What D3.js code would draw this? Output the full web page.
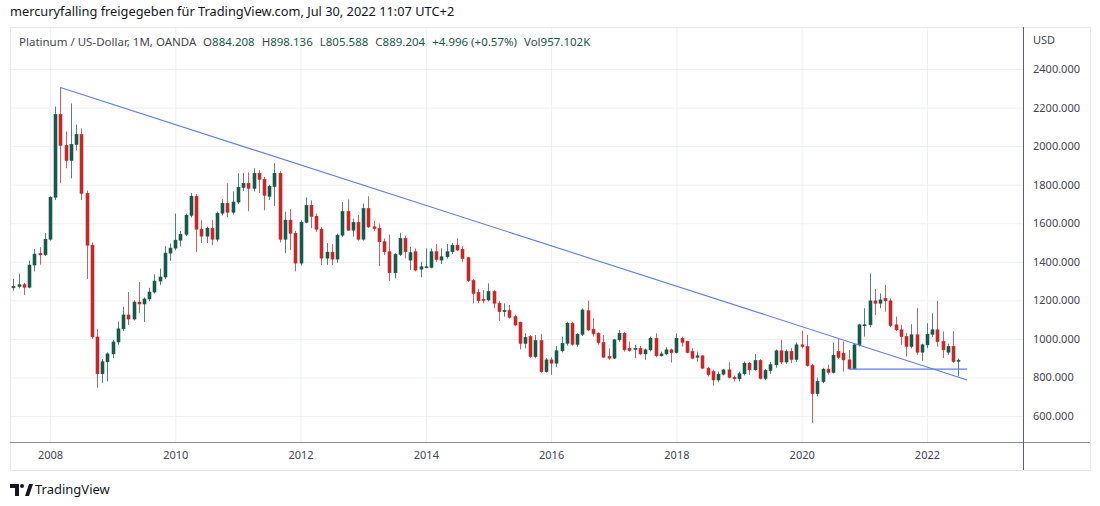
<!DOCTYPE html>
<html>
<head>
<meta charset="utf-8">
<script src="https://cdn.jsdelivr.net/npm/d3@7"></script>
<style>
  body { margin: 0; background: #fff; }
  svg text { font-family: "Noto Sans", "DejaVu Sans", sans-serif; }
</style>
</head>
<body>
<div id="chart"></div>
<script>
// monthly candles, first one is June 2007
const startMonth = new Date(2007, 5, 1);

const opens = [1265,1272,1281,1268,1383,1443,1436,1517,1735,2164,2004,1926,2009,2060,1755,1486,1010,819,881,922,
  984,1052,1124,1103,1191,1181,1207,1243,1300,1321,1445,1471,1512,1543,1641,1740,1569,1533,1574,1517,
  1652,1703,1657,1710,1786,1807,1781,1859,1828,1740,1791,1859,1517,1616,1548,1393,1605,1693,1636,1569,
  1419,1450,1414,1538,1660,1564,1604,1517,1676,1581,1573,1504,1452,1343,1438,1521,1409,1452,1362,1371,
  1371,1452,1409,1426,1452,1486,1464,1421,1302,1240,1205,1202,1245,1185,1141,1147,1115,1086,977,1012,
  908,991,830,891,874,938,977,1081,972,1024,1146,1050,1029,981,908,900,995,1029,951,946,
  951,922,943,1003,912,922,943,929,1003,986,934,905,912,848,830,787,817,839,800,793,
  819,874,840,888,795,836,866,938,880,935,893,969,960,862,716,779,843,826,935,926,
  891,845,969,1069,1073,1197,1185,1210,1197,1073,1047,1012,961,1021,931,969,1024,1047,986,931,
  961,884.208];
const highs = [1312,1338,1290,1405,1466,1476,1548,1740,2205,2304,2076,2221,2112,2092,1770,1500,1052,895,930,995,
  1090,1166,1243,1200,1295,1215,1265,1335,1365,1481,1495,1650,1560,1650,1757,1752,1616,1582,1616,1660,
  1724,1807,1765,1859,1860,1864,1885,1875,1840,1800,1912,1870,1660,1673,1560,1615,1733,1719,1650,1580,
  1497,1492,1545,1710,1723,1624,1642,1702,1740,1612,1598,1521,1541,1445,1550,1535,1478,1469,1400,1469,
  1469,1492,1470,1492,1498,1521,1481,1425,1310,1260,1253,1288,1255,1195,1184,1176,1125,1090,1029,1020,
  1020,1026,900,905,963,1012,1089,1089,1030,1158,1198,1107,1035,1020,951,1000,1046,1035,986,969,
  963,950,1012,1029,934,957,950,1029,1012,990,951,934,915,855,840,830,845,879,810,830,
  883,880,921,895,843,880,945,995,945,952,981,1042,1021,870,800,850,866,981,1003,986,
  943,975,1078,1159,1340,1259,1236,1280,1210,1116,1073,1030,1076,1159,975,1081,1133,1197,1038,975,
  1040,898.136];
const lows = [1250,1262,1228,1262,1350,1385,1430,1510,1720,1807,1885,1833,1978,1720,1310,1000,746,772,780,900,
  970,1040,1072,1095,1135,1088,1195,1235,1280,1310,1405,1460,1480,1535,1630,1450,1497,1497,1486,1505,
  1640,1631,1645,1700,1767,1662,1765,1757,1667,1720,1690,1500,1445,1460,1350,1380,1600,1574,1555,1383,
  1383,1383,1395,1530,1560,1530,1510,1510,1575,1560,1378,1435,1300,1314,1430,1417,1357,1350,1319,1366,
  1366,1400,1388,1417,1440,1455,1400,1295,1184,1184,1184,1195,1159,1093,1115,1105,1065,946,951,900,
  900,825,825,813,853,930,965,965,960,1015,1040,1012,970,900,891,895,985,934,934,900,
  917,891,935,905,908,915,877,925,960,925,895,882,845,805,758,775,810,795,779,779,
  810,814,835,790,785,819,850,870,870,874,880,950,855,564,702,770,815,820,895,831,
  843,840,960,1012,1060,1124,1159,1141,1060,1041,969,908,951,917,886,951,1010,960,900,918,
  875,805.588];
const closes = [1272,1281,1268,1383,1440,1436,1517,1735,2164,2004,1926,2009,2060,1755,1486,1010,819,881,922,984,
  1052,1124,1103,1191,1181,1207,1243,1300,1321,1445,1471,1512,1543,1641,1740,1569,1533,1574,1517,1652,
  1703,1657,1710,1786,1807,1781,1859,1828,1745,1791,1859,1517,1616,1548,1393,1605,1693,1636,1569,1419,
  1450,1414,1538,1660,1564,1604,1517,1676,1581,1573,1504,1452,1343,1438,1521,1452,1447,1357,1374,1374,
  1452,1412,1426,1452,1486,1461,1417,1302,1236,1198,1202,1245,1185,1141,1147,1112,1072,977,1007,908,
  991,830,891,874,938,977,1081,972,1024,1150,1046,1026,981,905,900,995,1029,943,939,951,
  922,943,1003,912,922,943,929,1003,982,929,900,912,848,815,787,817,839,800,793,819,
  874,840,888,795,836,866,938,880,935,893,969,960,862,716,779,843,826,915,904,891,
  845,969,1073,1073,1197,1185,1202,1197,1069,1047,1012,961,1021,931,969,1024,1047,986,943,961,
  883,889.204];

const yearTicks = [2008, 2010, 2012, 2014, 2016, 2018, 2020, 2022];
const priceTicks = [600, 800, 1000, 1200, 1400, 1600, 1800, 2000, 2200, 2400];

// drawn lines, i = month index counted from startMonth
const trendLine = [{ i: 9, price: 2304 }, { i: 182.7, price: 787 }];
const supportLine = [{ i: 160, price: 843 }, { i: 182.7, price: 843 }];

const titleText = "mercuryfalling freigegeben für TradingView.com, Jul 30, 2022 11:07 UTC+2";
const symbolText = "Platinum / US-Dollar, 1M, OANDA";
const volumeText = "957.102K";

const months = d3.timeMonth.range(startMonth, d3.timeMonth.offset(startMonth, closes.length));
const candles = months.map(function (m, i) {
  return { i: i, month: m, open: opens[i], high: highs[i], low: lows[i], close: closes[i] };
});

const width = 1100, height = 506;
const plot = { left: 10, right: 1023, top: 27, bottom: 442 };
const frame = { left: 10, right: 1090, top: 27, bottom: 470 };

const up = "#17594a", down = "#c62828";
const gridColor = "#eef0f4";
const textColor = "#434651";

const svg = d3.select("#chart").append("svg")
  .attr("width", width)
  .attr("height", height);

const x = d3.scaleLinear()
  .domain([-0.66, 193.4])
  .range([plot.left, plot.right]);

const y = d3.scaleLinear()
  .domain([465, 2618])
  .range([plot.bottom, plot.top]);

const monthIndex = function (year) { return (year - startMonth.getFullYear()) * 12 - startMonth.getMonth() };

// grid first so it stays under everything
svg.append("g")
  .attr("transform", "translate(0," + plot.bottom + ")")
  .call(d3.axisBottom(x)
    .tickValues(yearTicks.map(monthIndex))
    .tickSize(-(plot.bottom - plot.top))
    .tickFormat(""))
  .call(function (g) {
    g.select(".domain").remove();
    g.selectAll(".tick line").attr("stroke", gridColor);
  });

svg.append("g")
  .attr("transform", "translate(" + plot.left + ",0)")
  .call(d3.axisRight(y)
    .tickValues(priceTicks)
    .tickSize(plot.right - plot.left)
    .tickFormat(""))
  .call(function (g) {
    g.select(".domain").remove();
    g.selectAll(".tick line").attr("stroke", gridColor);
  });

// frame and axis separators
svg.append("rect")
  .attr("x", frame.left + 0.5)
  .attr("y", frame.top + 0.5)
  .attr("width", frame.right - frame.left)
  .attr("height", frame.bottom - frame.top)
  .attr("fill", "none")
  .attr("stroke", "#e6e8ee");

svg.append("line")
  .attr("x1", frame.left).attr("x2", frame.right)
  .attr("y1", plot.bottom + 0.5).attr("y2", plot.bottom + 0.5)
  .attr("stroke", "#8a8d96");

svg.append("line")
  .attr("x1", plot.right + 0.5).attr("x2", plot.right + 0.5)
  .attr("y1", frame.top).attr("y2", frame.bottom)
  .attr("stroke", "#5d606b");

// time axis labels
svg.append("g")
  .attr("transform", "translate(0," + plot.bottom + ")")
  .call(d3.axisBottom(x)
    .tickValues(yearTicks.map(monthIndex))
    .tickSize(0)
    .tickPadding(9)
    .tickFormat(function (d, i) { return yearTicks[i] }))
  .call(function (g) {
    g.select(".domain").remove();
    g.selectAll(".tick text")
      .attr("fill", textColor)
      .style("font-size", "11px");
  });

// price axis labels
svg.append("g")
  .attr("transform", "translate(" + plot.right + ",0)")
  .call(d3.axisRight(y)
    .tickValues(priceTicks)
    .tickSize(0)
    .tickPadding(10)
    .tickFormat(d3.format(".3f")))
  .call(function (g) {
    g.select(".domain").remove();
    g.selectAll(".tick text")
      .attr("fill", textColor)
      .style("font-size", "11px");
  });

svg.append("text")
  .attr("x", plot.right + 10)
  .attr("y", 44)
  .attr("fill", textColor)
  .style("font-size", "11px")
  .text("USD");

// candles
const candle = svg.append("g").selectAll("g")
  .data(candles)
  .enter().append("g")
    .attr("fill", function (d) { return d.close >= d.open ? up : down })
    .attr("stroke", function (d) { return d.close >= d.open ? up : down });

candle.append("line")
  .attr("x1", function (d) { return Math.round(x(d.i)) + 0.5 })
  .attr("x2", function (d) { return Math.round(x(d.i)) + 0.5 })
  .attr("y1", function (d) { return y(d.high) })
  .attr("y2", function (d) { return y(d.low) })
  .attr("stroke-width", 1)
  .attr("stroke-opacity", 0.75);

candle.append("rect")
  .attr("x", function (d) { return Math.round(x(d.i)) - 1 })
  .attr("width", 3)
  .attr("y", function (d) { return y(Math.max(d.open, d.close)) })
  .attr("height", function (d) { return Math.max(1, Math.abs(y(d.open) - y(d.close))) })
  .attr("stroke-width", 0.6);

// user drawn lines
const drawn = d3.line()
  .x(function (d) { return x(d.i) })
  .y(function (d) { return y(d.price) });

[trendLine, supportLine].forEach(function (pts) {
  svg.append("path")
    .attr("d", drawn(pts))
    .attr("fill", "none")
    .attr("stroke", "#5b7cf0")
    .attr("stroke-width", 1.1);
});

// header
svg.append("text")
  .attr("x", 10)
  .attr("y", 16)
  .attr("fill", "#131722")
  .style("font-size", "12.8px")
  .text(titleText);

const last = candles[candles.length - 1];
const change = last.close - last.open;
const fmt = d3.format(".3f");
const legend = svg.append("text")
  .attr("x", 19)
  .attr("y", 46)
  .style("font-size", "11.5px")
  .attr("fill", textColor);

legend.append("tspan").text(symbolText);
[["O", fmt(last.open)], ["H", fmt(last.high)], ["L", fmt(last.low)], ["C", fmt(last.close)]]
  .forEach(function (p) {
    legend.append("tspan").attr("dx", 7).text(p[0]);
    legend.append("tspan").attr("fill", up).text(p[1]);
  });
legend.append("tspan").attr("dx", 7).attr("fill", up)
  .text("+" + fmt(change) + " (+" + d3.format(".2f")(change / last.open * 100) + "%)");
legend.append("tspan").attr("dx", 7).text("Vol");
legend.append("tspan").attr("fill", up).text(volumeText);

// footer logo
const logo = svg.append("g").attr("fill", "#131722");
logo.append("path").attr("d", "M10,484 H19 V496 H15 V488 H10 Z");
logo.append("circle").attr("cx", 22).attr("cy", 486).attr("r", 2);
logo.append("path").attr("d", "M25,496 L29,484 H33 L29,496 Z");

svg.append("text")
  .attr("x", 35)
  .attr("y", 494)
  .attr("fill", "#131722")
  .style("font-size", "13px")
  .text("TradingView");
</script>
</body>
</html>
